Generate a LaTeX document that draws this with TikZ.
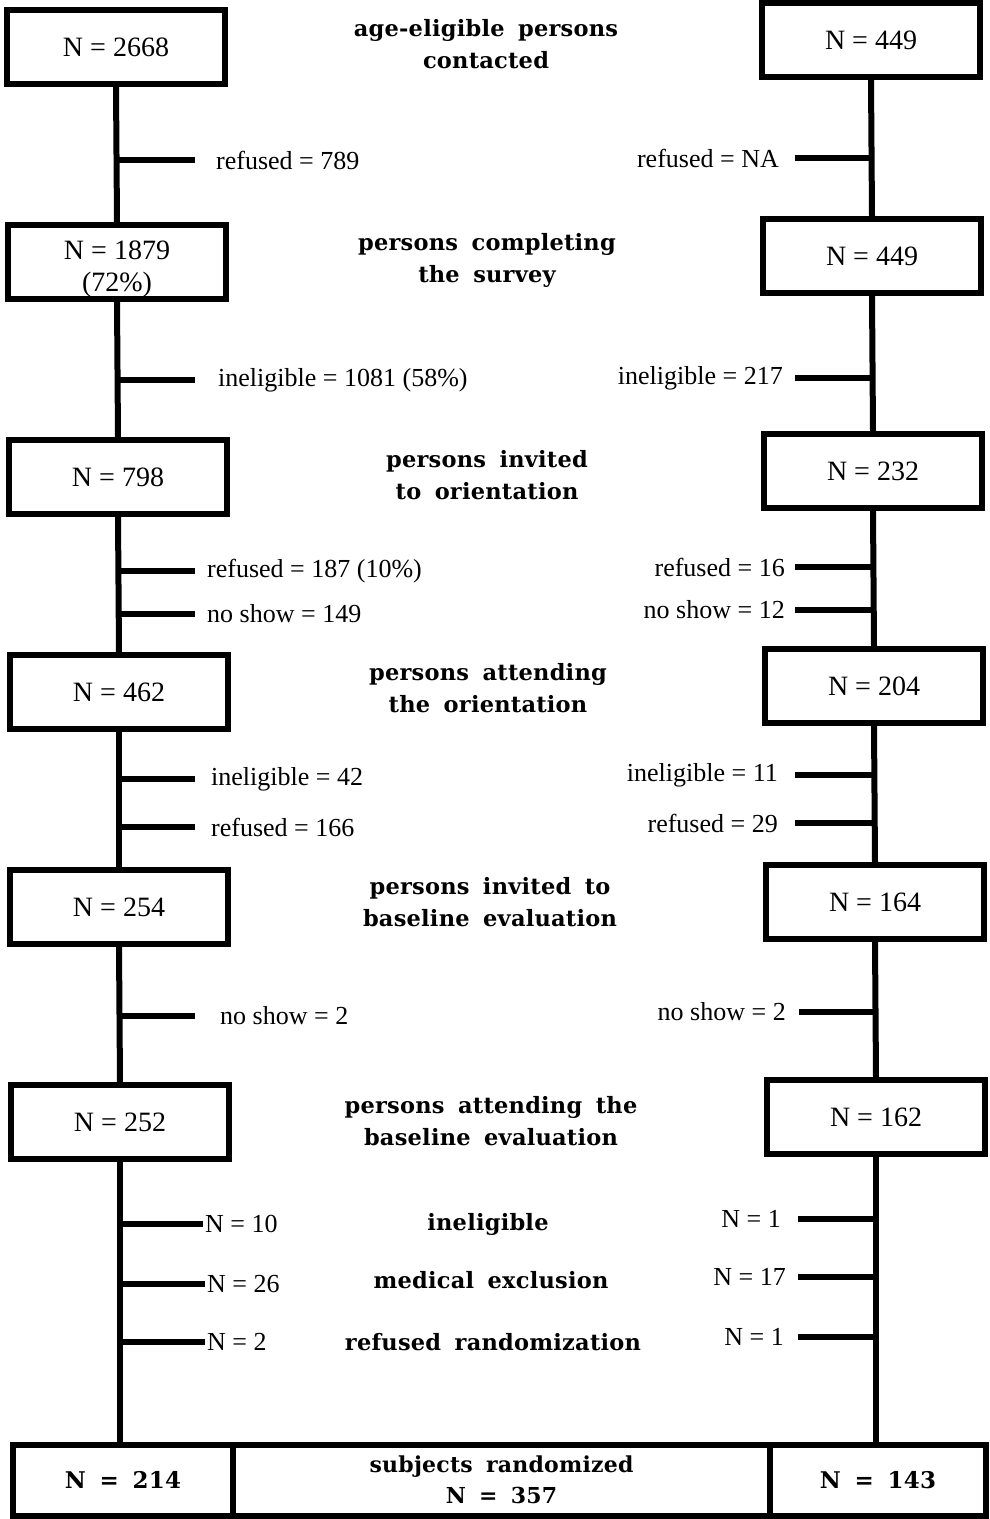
\documentclass[tikz,border=0pt]{standalone}
\usepackage{fontspec}
\setmainfont{Liberation Serif}
\newfontfamily\headfont{DejaVu Serif}[LetterSpace=1]
\newcommand\headsp{\spaceskip=0.6em plus 0.1em\relax}
\usetikzlibrary{positioning}

\begin{document}
\begin{tikzpicture}[x=1pt,y=-1pt,
  nbox/.style={draw,line width=6pt,fill=white,minimum width=218pt,minimum height=74pt,
               inner sep=0pt,align=center,font=\fontsize{28}{32}\selectfont},
  head/.style={align=center,inner sep=0pt,
               font=\headfont\bfseries\fontsize{22.5}{32}\selectfont\headsp},
  tag/.style={inner sep=0pt,font=\fontsize{26}{30}\selectfont},
  ln/.style={line width=6pt}]
  \useasboundingbox (0,0) rectangle (990,1519);
  % left column
  \node[nbox] (l1) at (116,47) {N = 2668};
  \node[nbox] (l2) at (117,262) {\raisebox{-7pt}[\height][\depth]{N = 1879}\\\raisebox{-7pt}[\height][\depth]{(72\%)}};
  \node[nbox] (l3) at (118,477) {N = 798};
  \node[nbox] (l4) at (119,692) {N = 462};
  \node[nbox] (l5) at (119,907) {N = 254};
  \node[nbox] (l6) at (120,1122) {N = 252};
  % right column
  \node[nbox] (r1) at (871,40) {N = 449};
  \node[nbox] (r2) at (872,256) {N = 449};
  \node[nbox] (r3) at (873,471) {N = 232};
  \node[nbox] (r4) at (874,686) {N = 204};
  \node[nbox] (r5) at (875,902) {N = 164};
  \node[nbox] (r6) at (876,1117) {N = 162};
  % headings
  \node[head] (h1) at (486,44) {age-eligible persons\\contacted};
  \node[head] (h2) at (487,260) {persons completing\\the survey};
  \node[head] (h3) at (487,475) {persons invited\\to orientation};
  \node[head] (h4) at (488,688) {persons attending\\the orientation};
  \node[head] (h5) at (490,902) {persons invited to\\baseline evaluation};
  \node[head] (h6) at (491,1121) {persons attending the\\baseline evaluation};
  \node[head] (hi) at (488,1224) {ineligible};
  \node[head] (hm) at (491,1280) {medical exclusion};
  \node[head] (hr) at (493,1342) {refused randomization};
  % left tags
  \node[tag,anchor=west] (a1) at (216,160) {refused = 789};
  \node[tag,anchor=west] (a2) at (218,380) {ineligible = 1081 (58\%)};
  \node[tag,anchor=west] (a3) at (207,571) {refused = 187 (10\%)};
  \node[tag,anchor=west] (a4) at (207,614) {no show = 149};
  \node[tag,anchor=west] (a5) at (211,779) {ineligible = 42};
  \node[tag,anchor=west] (a6) at (211,827) {refused = 166};
  \node[tag,anchor=west] (a7) at (220,1016) {no show = 2};
  \node[tag,anchor=west] (a8) at (205,1224) {N = 10};
  \node[tag,anchor=west] (a9) at (207,1284) {N = 26};
  \node[tag,anchor=west] (a10) at (207,1342) {N = 2};
  % right tags
  \node[tag,anchor=east] (b1) at (779,158) {refused = NA};
  \node[tag,anchor=east] (b2) at (783,378) {ineligible = 217};
  \node[tag,anchor=east] (b3) at (785,567) {refused = 16};
  \node[tag,anchor=east] (b4) at (785,610) {no show = 12};
  \node[tag,anchor=east] (b5) at (778,775) {ineligible = 11};
  \node[tag,anchor=east] (b6) at (778,823) {refused = 29};
  \node[tag,anchor=east] (b7) at (786,1012) {no show = 2};
  \node[tag,anchor=east] (b8) at (781,1219) {N = 1};
  \node[tag,anchor=east] (b9) at (786,1277) {N = 17};
  \node[tag,anchor=east] (b10) at (784,1337) {N = 1};
  % bottom bar
  \node[nbox,minimum width=220pt,minimum height=71pt,font=\headfont\bfseries\fontsize{23}{32}\selectfont\headsp] (bl) at (123,1480) {N = 214};
  \node[nbox,minimum width=537pt,minimum height=71pt,font=\headfont\bfseries\fontsize{22}{31}\selectfont\headsp] (bc) at (501.5,1480) {subjects randomized\\N = 357};
  \node[nbox,minimum width=216pt,minimum height=71pt,font=\headfont\bfseries\fontsize{23}{32}\selectfont\headsp] (br) at (878,1480) {N = 143};
  % spines
  \draw[ln] (l1.south) -- (l2.north); \draw[ln] (l2.south) -- (l3.north);
  \draw[ln] (l3.south) -- (l4.north); \draw[ln] (l4.south) -- (l5.north);
  \draw[ln] (l5.south) -- (l6.north); \draw[ln] (l6.south) -- (l6.south |- bl.north);
  \draw[ln] (r1.south) -- (r2.north); \draw[ln] (r2.south) -- (r3.north);
  \draw[ln] (r3.south) -- (r4.north); \draw[ln] (r4.south) -- (r5.north);
  \draw[ln] (r5.south) -- (r6.north); \draw[ln] (r6.south) -- (r6.south |- br.north);
  % stubs left
  \draw[ln] (a1.west -| l1) -- ([xshift=-21pt]a1.west);
  \draw[ln] (a2.west -| l2) -- ([xshift=-23pt]a2.west);
  \draw[ln] (a3.west -| l3) -- ([xshift=-12pt]a3.west);
  \draw[ln] (a4.west -| l3) -- ([xshift=-12pt]a4.west);
  \draw[ln] (a5.west -| l4) -- ([xshift=-16pt]a5.west);
  \draw[ln] (a6.west -| l4) -- ([xshift=-16pt]a6.west);
  \draw[ln] (a7.west -| l5) -- ([xshift=-25pt]a7.west);
  \draw[ln] (a8.west -| l6) -- ([xshift=-2pt]a8.west);
  \draw[ln] (a9.west -| l6) -- ([xshift=-2pt]a9.west);
  \draw[ln] (a10.west -| l6) -- ([xshift=-2pt]a10.west);
  % stubs right
  \draw[ln] ([xshift=16pt]b1.east) -- (b1.east -| r1);
  \draw[ln] ([xshift=12pt]b2.east) -- (b2.east -| r2);
  \draw[ln] ([xshift=10pt]b3.east) -- (b3.east -| r3);
  \draw[ln] ([xshift=10pt]b4.east) -- (b4.east -| r3);
  \draw[ln] ([xshift=17pt]b5.east) -- (b5.east -| r4);
  \draw[ln] ([xshift=17pt]b6.east) -- (b6.east -| r4);
  \draw[ln] ([xshift=13pt]b7.east) -- (b7.east -| r5);
  \draw[ln] ([xshift=17pt]b8.east) -- (b8.east -| r6);
  \draw[ln] ([xshift=12pt]b9.east) -- (b9.east -| r6);
  \draw[ln] ([xshift=14pt]b10.east) -- (b10.east -| r6);
\end{tikzpicture}
\end{document}
